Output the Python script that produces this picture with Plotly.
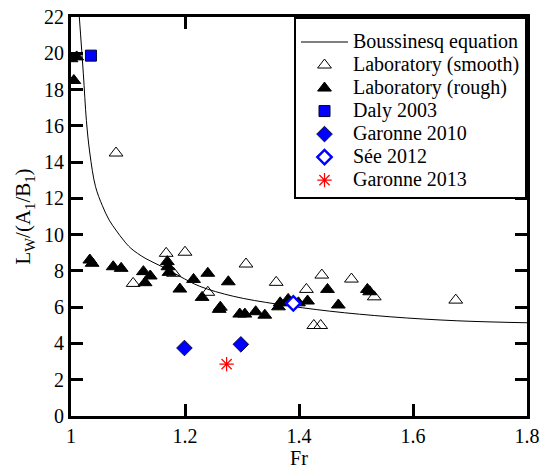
import plotly.graph_objects as go

# Boussinesq equation curve
bous_fr = [1.0146, 1.0216, 1.027, 1.033, 1.043, 1.055, 1.067, 1.08, 1.092, 1.105,
           1.13, 1.162, 1.191, 1.226, 1.285, 1.361, 1.454, 1.56, 1.677, 1.8]
bous_y = [22, 18.9, 16.3, 14.5, 12.65, 11.6, 10.8, 10.2, 9.7, 9.25,
          8.7, 8.2, 7.7, 7.15, 6.6, 6.17, 5.78, 5.47, 5.25, 5.14]

# Laboratory (smooth)
smooth_fr = [1.079, 1.109, 1.167, 1.2, 1.18, 1.24, 1.307, 1.36, 1.413, 1.44,
             1.492, 1.532, 1.426, 1.438, 1.675]
smooth_y = [14.5, 7.31, 8.97, 9.03, 7.87, 6.82, 8.38, 7.37, 6.98, 7.77,
            7.55, 6.57, 4.99, 4.99, 6.39]

# Laboratory (rough)
rough_fr = [1.0, 1.01, 1.005, 1.033, 1.037, 1.074, 1.088, 1.127, 1.139, 1.13,
            1.169, 1.17, 1.172, 1.191, 1.215, 1.24, 1.23, 1.26, 1.262, 1.276,
            1.296, 1.305, 1.324, 1.34, 1.364, 1.367, 1.381, 1.399, 1.415, 1.45,
            1.469, 1.52, 1.524]
rough_y = [19.7, 19.8, 18.5, 8.6, 8.42, 8.23, 8.14, 7.96, 7.72, 7.35,
           8.51, 8.23, 7.92, 7.0, 7.53, 7.87, 6.54, 5.88, 6.0, 7.4,
           5.62, 5.62, 5.75, 5.56, 6.02, 6.24, 6.43, 6.24, 6.34, 6.98,
           6.12, 6.98, 6.85]

daly_fr = [1.035]
daly_y = [19.87]

gar10_fr = [1.199, 1.298]
gar10_y = [3.75, 3.95]

see_fr = [1.39]
see_y = [6.21]

gar13_fr = [1.273]
gar13_y = [2.86]

x_ticks = [1, 1.2, 1.4, 1.6, 1.8]
x_labels = ["1", "1.2", "1.4", "1.6", "1.8"]
y_ticks = list(range(0, 23, 2))

series_names = ["Boussinesq equation", "Laboratory (smooth)", "Laboratory (rough)",
                "Daly 2003", "Garonne 2010", "Sée 2012", "Garonne 2013"]

FONT = "Liberation Serif"


def lname(s):
    return "<span style='font-size:20px'>" + s + "</span>"


fig = go.Figure()
fig.add_trace(go.Scatter(x=bous_fr, y=bous_y, mode="lines", name=lname(series_names[0]),
                         line=dict(color="black", width=1, shape="spline")))
fig.add_trace(go.Scatter(x=smooth_fr, y=smooth_y, mode="markers", name=lname(series_names[1]),
                         marker=dict(symbol="triangle-up-open", size=12, color="black",
                                     line=dict(width=1, color="black"))))
fig.add_trace(go.Scatter(x=rough_fr, y=rough_y, mode="markers", name=lname(series_names[2]),
                         marker=dict(symbol="triangle-up", size=12, color="black",
                                     line=dict(width=1, color="black"))))
fig.add_trace(go.Scatter(x=daly_fr, y=daly_y, mode="markers", name=lname(series_names[3]),
                         marker=dict(symbol="square", size=11, color="#0000ff",
                                     line=dict(width=1, color="#00003a"))))
fig.add_trace(go.Scatter(x=gar10_fr, y=gar10_y, mode="markers", name=lname(series_names[4]),
                         marker=dict(symbol="diamond", size=12, color="#0000ff",
                                     line=dict(width=1, color="#111133"))))
fig.add_trace(go.Scatter(x=see_fr, y=see_y, mode="markers", name=lname(series_names[5]),
                         marker=dict(symbol="diamond", size=11, color="white",
                                     line=dict(width=2.5, color="#0000ff"))))
fig.add_trace(go.Scatter(x=gar13_fr, y=gar13_y, mode="markers", name=lname(series_names[6]),
                         marker=dict(symbol="asterisk-open", size=12, color="red",
                                     line=dict(width=1.2, color="red"))))

axis_common = dict(showline=True, linecolor="black", linewidth=3, mirror="ticks",
                   ticks="inside", ticklen=12, tickwidth=2.5, tickcolor="black",
                   showgrid=False, zeroline=False, automargin=False,
                   ticklabeloverflow="allow",
                   tickfont=dict(family=FONT, size=20, color="black"))

fig.update_xaxes(range=[1, 1.8], tickvals=x_ticks, ticktext=x_labels,
                 title=dict(text="Fr", font=dict(family=FONT, size=20, color="black"), standoff=4),
                 **axis_common)
fig.update_yaxes(range=[0, 22], tickvals=y_ticks,
                 title=dict(text="L<sub>W</sub>/(A<sub>1</sub>/B<sub>1</sub>)",
                            font=dict(family=FONT, size=21, color="black"), standoff=8),
                 **axis_common)

fig.update_layout(
    width=541, height=470,
    margin=dict(l=71, r=14, t=17, b=54),
    plot_bgcolor="white", paper_bgcolor="white",
    font=dict(family=FONT, size=20, color="black"),
    legend=dict(x=1, y=1, xanchor="right", yanchor="top",
                bordercolor="black", borderwidth=2, bgcolor="white",
                font=dict(family=FONT, size=15.4, color="black"),
                title=dict(text=" ", font=dict(family=FONT, size=5)),
                tracegroupgap=0, itemwidth=47),
    showlegend=True,
)

fig.write_html("out.html", config={"displayModeBar": False},
               post_script="document.body.style.margin='0px';document.body.style.overflow='hidden';")
